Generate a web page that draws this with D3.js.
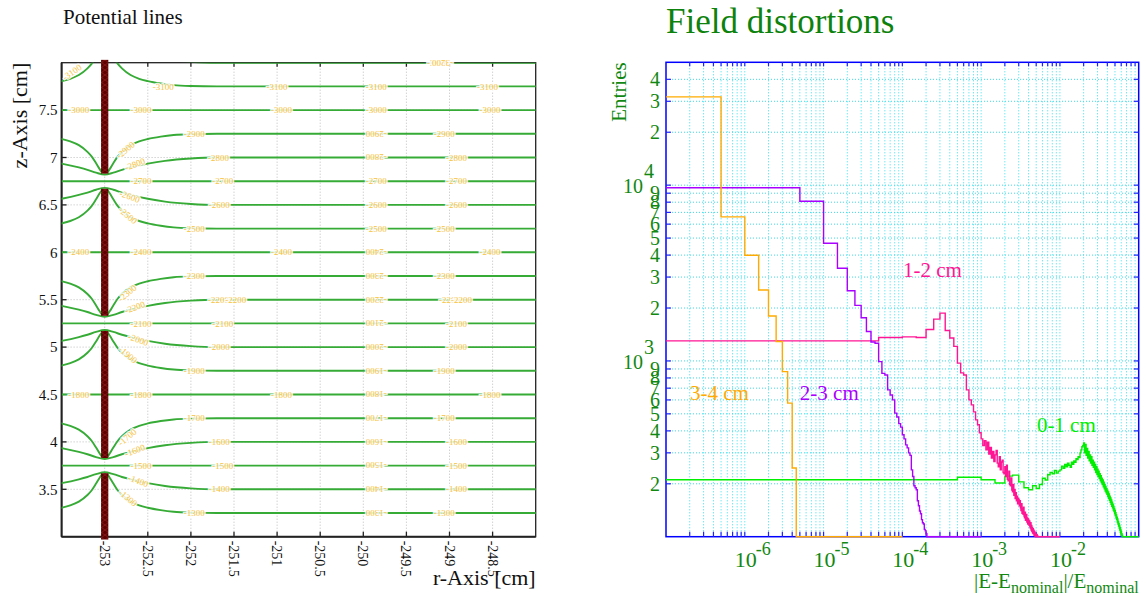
<!DOCTYPE html>
<html><head><meta charset="utf-8">
<script src="https://cdn.jsdelivr.net/npm/d3@7"></script>
<style>
body{margin:0;background:#fff}
svg{display:block}
text{font-family:"Liberation Serif","DejaVu Serif",serif}
</style>
</head><body>
<svg id="c" width="1146" height="596"></svg>
<script>
// ===================== LEFT PANEL DATA =====================
const rTicks = [-253, -252.5, -252, -251.5, -251, -250.5, -250, -249.5, -249, -248.5];
const rTickLabels = ["-253", "-252.5", "-252", "-251.5", "-251", "-250.5", "-250", "-249.5", "-249", "-248.5"];
const zTicks = [3.5, 4, 4.5, 5, 5.5, 6, 6.5, 7, 7.5];
const zTickLabels = ["3.5", "4", "4.5", "5", "5.5", "6", "6.5", "7", "7.5"];
const wireR = -253;
const wireGaps = [2.25, 3.75, 5.25, 6.75, 8.25];
const stripSegments = [[2.97, 3.67], [3.83, 5.17], [5.33, 6.67], [6.83, 8.03]];
const levelZ = [3.25, 3.5, 3.75, 4.0, 4.25, 4.5, 4.75, 5.0, 5.25, 5.5, 5.75, 6.0, 6.25, 6.5, 6.75, 7.0, 7.25, 7.5, 7.75, 8.0];
const levelV = [-1300, -1400, -1500, -1600, -1700, -1800, -1900, -2000, -2100, -2200, -2300, -2400, -2500, -2600, -2700, -2800, -2900, -3000, -3100, -3200];
// contour shape: offset from wire (dr) vs offset from gap (dz)
const farDr  = [0.03, 0.06, 0.10, 0.15, 0.20, 0.30, 0.40, 0.50, 0.65, 0.80, 1.00, 1.30, 6.0];
const farDz  = [0.09, 0.13, 0.19, 0.26, 0.31, 0.38, 0.42, 0.445, 0.47, 0.487, 0.496, 0.50, 0.50];
const nearDr = [0.0, 0.10, 0.20, 0.30, 0.50, 0.70, 1.00, 1.30, 6.0];
const nearDz = [0.07, 0.09, 0.12, 0.145, 0.185, 0.215, 0.24, 0.25, 0.25];
// contour labels: [value, r, z, angle]
const contourLabels = [
  [-3200, -249.14, 8.0, 0], [-3200, -249.08, 8.0, 180],
  [-3100, -253.38, 7.90, -35], [-3100, -252.32, 7.75, 0], [-3100, -251.0, 7.75, 0], [-3100, -249.85, 7.75, 0], [-3100, -248.56, 7.75, 0],
  [-3000, -253.3, 7.5, 0], [-3000, -252.58, 7.5, 0], [-3000, -250.95, 7.5, 0], [-3000, -249.85, 7.5, 0], [-3000, -248.53, 7.5, 0],
  [-2900, -252.76, 7.08, -40], [-2900, -251.96, 7.25, 0], [-2900, -249.85, 7.25, 180], [-2900, -249.06, 7.25, 0],
  [-2800, -252.65, 6.93, -20], [-2800, -251.68, 7.0, 0], [-2800, -249.85, 7.0, 180], [-2800, -248.92, 7.0, 0],
  [-2700, -252.58, 6.75, 0], [-2700, -251.63, 6.75, 0], [-2700, -249.85, 6.75, 0], [-2700, -248.92, 6.75, 0],
  [-2600, -252.71, 6.59, 20], [-2600, -251.67, 6.5, 0], [-2600, -249.85, 6.5, 0], [-2600, -248.92, 6.5, 0],
  [-2500, -252.73, 6.39, 40], [-2500, -251.96, 6.25, 0], [-2500, -249.85, 6.25, 0], [-2500, -249.06, 6.25, 0],
  [-2400, -253.3, 6.0, 0], [-2400, -252.58, 6.0, 0], [-2400, -250.95, 6.0, 0], [-2400, -249.85, 6.0, 180], [-2400, -248.53, 6.0, 0],
  [-2300, -252.74, 5.57, -40], [-2300, -251.96, 5.75, 0], [-2300, -249.85, 5.75, 180], [-2300, -249.06, 5.75, 0],
  [-2200, -252.65, 5.42, -20], [-2200, -251.68, 5.5, 0], [-2200, -251.48, 5.5, 0], [-2200, -249.85, 5.5, 180], [-2200, -249.0, 5.5, 0], [-2200, -248.86, 5.5, 0],
  [-2100, -252.58, 5.25, 0], [-2100, -251.63, 5.25, 0], [-2100, -249.85, 5.25, 180], [-2100, -248.92, 5.25, 0],
  [-2000, -252.61, 5.08, 20], [-2000, -251.67, 5.0, 0], [-2000, -249.85, 5.0, 180], [-2000, -248.92, 5.0, 0],
  [-1900, -252.73, 4.92, 40], [-1900, -251.96, 4.75, 0], [-1900, -249.85, 4.75, 180], [-1900, -249.06, 4.75, 0],
  [-1800, -253.3, 4.5, 0], [-1800, -252.58, 4.5, 0], [-1800, -250.95, 4.5, 0], [-1800, -249.85, 4.5, 180], [-1800, -248.53, 4.5, 0],
  [-1700, -252.74, 4.05, -40], [-1700, -251.96, 4.25, 0], [-1700, -249.85, 4.25, 180], [-1700, -249.06, 4.25, 0],
  [-1600, -252.65, 3.91, -20], [-1600, -251.67, 4.0, 0], [-1600, -249.85, 4.0, 180], [-1600, -248.92, 4.0, 0],
  [-1500, -252.58, 3.75, 0], [-1500, -251.63, 3.75, 0], [-1500, -249.85, 3.75, 180], [-1500, -248.92, 3.75, 0],
  [-1400, -252.61, 3.59, 20], [-1400, -251.67, 3.5, 0], [-1400, -249.85, 3.5, 180], [-1400, -248.92, 3.5, 0],
  [-1300, -252.73, 3.41, 40], [-1300, -251.96, 3.25, 0], [-1300, -249.85, 3.25, 180], [-1300, -249.06, 3.25, 0]
];

// ===================== RIGHT PANEL DATA =====================
const xDecades = [-7, -6, -5, -4, -3, -2, -1];
const xLabelExp = ["-6", "-5", "-4", "-3", "-2"];
const yDecades = [2, 3, 4];
const seriesNames = ["3-4 cm", "2-3 cm", "1-2 cm", "0-1 cm"];
const seriesColors = ["#ffaa00", "#aa00ff", "#ff1493", "#00ee00"];
const binWidths = [5e-7, 5e-6, 5e-5, 5e-4];
const rangeEnds = [1e-4, 1e-3, 1e-2, 1e-1];
const vals34 = [31800, 6600, 3990, 2530, 1800, 1290, 869, 575, 246];
const vals23 = [9660, 8100, 4670, 3370, 2510, 2070, 1760, 1470, 1282, 1260,
  991, 850, 832, 684, 640, 600, 505, 480, 440, 420,
  380, 360, 333, 320, 300, 290, 240, 220, 195, 190,
  185, 160, 150, 140, 135, 125, 120, 118, 110, 108,
  104, 100, 96, 92];
const vals12 = [1300, 1360, 1370, 1360, 1510, 1730, 1870, 1490, 1350, 1210,
  972, 855, 832, 684, 600, 562, 513, 462, 433, 390,
  360, 330, 352, 312, 345, 295, 322, 280, 305, 268,
  292, 310, 262, 250, 285, 240, 266, 272, 232, 228,
  250, 220, 255, 212, 208, 236, 198, 195, 216, 184,
  180, 198, 172, 186, 165, 178, 160, 170, 154, 165,
  162, 150, 160, 146, 141, 154, 136, 145, 134, 147,
  131, 128, 138, 124, 129, 134, 121, 128, 118, 126,
  124, 116, 123, 114, 112, 120, 109, 116, 107, 113,
  105, 111, 104, 109, 102, 107, 101, 105, 100, 103,
  102, 99, 103, 98, 101, 97, 96, 94];
const vals01 = [211, 218, 211, 202, 221, 224, 205, 190, 185, 195,
  188, 198, 215, 210, 225, 232, 228, 238, 230, 236,
  240, 252, 245, 258, 250, 262, 255, 248, 265, 258,
  270, 265, 278, 275, 285, 282, 300, 312, 325, 330,
  341, 300, 335, 290, 318, 280, 305, 270, 292, 262,
  285, 255, 272, 248, 265, 240, 258, 232, 250, 226,
  242, 220, 236, 214, 228, 208, 222, 203, 215, 198,
  210, 192, 204, 187, 198, 182, 193, 178, 188, 174,
  184, 170, 180, 165, 175, 161, 170, 157, 166, 153,
  162, 149, 157, 146, 153, 142, 149, 139, 145, 135,
  141, 132, 137, 128, 133, 125, 129, 121, 126, 118,
  122, 115, 119, 112, 116, 109, 113, 106, 110, 104,
  107, 102, 104, 100, 102, 98, 100, 96, 97, 95];
const seriesVals = [vals34, vals23, vals12, vals01];
// series label anchor positions (data coords)
const labelX = [2.02e-7, 5.0e-6, 1.02e-4, 5.1e-3];
const labelY = [598, 598, 2990, 394];

// ===================== DRAWING =====================
const svg = d3.select("#c");
const defs = svg.append("defs");

// ---------- LEFT ----------
const xL = d3.scaleLinear().domain([-253.5, -248]).range([61.6, 535.7]);
const yL = d3.scaleLinear().domain([3, 8]).range([536.7, 62.7]);
const L = svg.append("g");

defs.append("clipPath").attr("id", "clipL").append("rect")
  .attr("x", xL(-253.5)).attr("y", yL(8)).attr("width", xL(-248) - xL(-253.5)).attr("height", yL(3) - yL(8));

// grid
L.append("g").selectAll("line").data(rTicks).join("line")
  .attr("x1", d => xL(d)).attr("x2", d => xL(d)).attr("y1", yL(8)).attr("y2", yL(3))
  .attr("stroke", "#bdbdbd").attr("stroke-dasharray", "1,2");
L.append("g").selectAll("line").data(zTicks).join("line")
  .attr("y1", d => yL(d)).attr("y2", d => yL(d)).attr("x1", xL(-253.5)).attr("x2", xL(-248))
  .attr("stroke", "#bdbdbd").attr("stroke-dasharray", "1,2");

// frame
L.append("rect").attr("x", xL(-253.5)).attr("y", yL(8)).attr("width", xL(-248) - xL(-253.5)).attr("height", yL(3) - yL(8))
  .attr("fill", "none").attr("stroke", "#222").attr("stroke-width", 1.3);
L.append("line").attr("x1", xL(-253.5)).attr("x2", xL(-253.5)).attr("y1", yL(8)).attr("y2", yL(3)).attr("stroke", "#222").attr("stroke-width", 2);
L.append("line").attr("x1", xL(-253.5)).attr("x2", xL(-248)).attr("y1", yL(3)).attr("y2", yL(3)).attr("stroke", "#222").attr("stroke-width", 2);
// ticks
L.append("g").selectAll("line").data(rTicks).join("line")
  .attr("x1", d => xL(d)).attr("x2", d => xL(d)).attr("y1", yL(3)).attr("y2", yL(3) - 5).attr("stroke", "#222").attr("stroke-width", 1.3);
L.append("g").selectAll("line").data(rTicks).join("line")
  .attr("x1", d => xL(d)).attr("x2", d => xL(d)).attr("y1", yL(8)).attr("y2", yL(8) + 4).attr("stroke", "#222").attr("stroke-width", 1.3);
L.append("g").selectAll("line").data(zTicks).join("line")
  .attr("y1", d => yL(d)).attr("y2", d => yL(d)).attr("x1", xL(-253.5)).attr("x2", xL(-253.5) + 5).attr("stroke", "#222").attr("stroke-width", 1.3);

// contours
const lineL = d3.line().x(d => xL(d[0])).y(d => yL(d[1])).curve(d3.curveMonotoneX);
const contourPaths = [];
levelZ.forEach(z => {
  let g = wireGaps[0];
  wireGaps.forEach(w => { if (Math.abs(z - w) < Math.abs(z - g)) g = w; });
  const d = +(z - g).toFixed(3);
  const s = d >= 0 ? 1 : -1;
  const ad = Math.abs(d);
  if (ad < 0.01 || ad > 0.7) {
    contourPaths.push([[-253.5, z], [-248, z]]);
  } else if (ad < 0.3) {
    const pts = [];
    for (let i = nearDr.length - 1; i > 0; i--) pts.push([wireR - nearDr[i], g + s * nearDz[i]]);
    nearDr.forEach((dr, i) => pts.push([wireR + dr, g + s * nearDz[i]]));
    contourPaths.push(pts);
  } else {
    const left = [], right = [];
    for (let i = farDr.length - 1; i >= 0; i--) left.push([wireR - farDr[i], g + s * farDz[i]]);
    farDr.forEach((dr, i) => right.push([wireR + dr, g + s * farDz[i]]));
    contourPaths.push(left, right);
  }
});
L.append("g").attr("clip-path", "url(#clipL)").selectAll("path").data(contourPaths).join("path")
  .attr("d", lineL).attr("fill", "none").attr("stroke", "#36ab36").attr("stroke-width", 1.9);

// wire strips
const pat = defs.append("pattern").attr("id", "wirePat").attr("patternUnits", "userSpaceOnUse")
  .attr("width", 7).attr("height", 5);
pat.append("rect").attr("width", 7).attr("height", 5).attr("fill", "#5e0000");
pat.append("path").attr("d", "M0,0L7,5M7,0L0,5").attr("stroke", "#8a1c1c").attr("stroke-width", 0.8);
L.append("g").selectAll("rect").data(stripSegments).join("rect")
  .attr("x", xL(wireR - 0.042)).attr("width", xL(wireR + 0.042) - xL(wireR - 0.042))
  .attr("y", d => yL(d[1])).attr("height", d => yL(d[0]) - yL(d[1]))
  .attr("fill", "url(#wirePat)");

// contour labels
L.append("g").selectAll("text").data(contourLabels).join("text")
  .attr("transform", d => `translate(${xL(d[1])},${yL(d[2])}) rotate(${d[3]})`)
  .attr("text-anchor", "middle").attr("dy", "0.35em")
  .attr("font-size", 9).attr("fill", "#f7c23a")
  .attr("stroke", "#ffffff").attr("stroke-width", 2.5).attr("stroke-opacity", 0.85).attr("paint-order", "stroke")
  .text(d => String(d[0]));

// tick labels
L.append("g").selectAll("text").data(rTicks).join("text")
  .attr("transform", d => `translate(${xL(d)},${yL(3) + 4}) rotate(90)`)
  .attr("dy", "0.35em").attr("font-size", 14).attr("fill", "#111")
  .text((d, i) => rTickLabels[i]);
L.append("g").selectAll("text").data(zTicks).join("text")
  .attr("x", xL(-253.5) - 4).attr("y", d => yL(d)).attr("dy", "0.35em")
  .attr("text-anchor", "end").attr("font-size", 15).attr("fill", "#111")
  .text((d, i) => zTickLabels[i]);

// titles
L.append("text").attr("x", 63).attr("y", 24).attr("font-size", 21).attr("fill", "#111").text("Potential lines");
L.append("text").attr("transform", `translate(27,${yL(8)}) rotate(-90)`).attr("text-anchor", "end")
  .attr("font-size", 22).attr("fill", "#111").text("z-Axis [cm]");
L.append("text").attr("x", xL(-248)).attr("y", 585).attr("text-anchor", "end")
  .attr("font-size", 22).attr("fill", "#111").text("r-Axis [cm]");

// ---------- RIGHT ----------
const xR = d3.scaleLog().domain([1e-7, 1e-1]).range([666, 1138.7]).clamp(true);
const yR = d3.scaleLog().domain([100, 5e4]).range([536.7, 62.3]).clamp(true);
const R = svg.append("g");
const [x0, x1] = xR.range();
const [y0, y1] = yR.range();

const xMinor = [];
xDecades.forEach(e => { for (let m = 1; m <= 9; m++) { const v = m * Math.pow(10, e); if (v > 1.0001e-7 && v < 0.9999e-1) xMinor.push(v); } });
const yMinor = [];
yDecades.forEach(e => { for (let m = 1; m <= 9; m++) { const v = m * Math.pow(10, e); if (v > 100.01 && v < 49990) yMinor.push(v); } });

// grid
R.append("g").selectAll("line").data(xMinor).join("line")
  .attr("x1", d => xR(d)).attr("x2", d => xR(d)).attr("y1", y1).attr("y2", y0)
  .attr("stroke", "#30dff0").attr("stroke-dasharray", "1,2");
R.append("g").selectAll("line").data(yMinor).join("line")
  .attr("y1", d => yR(d)).attr("y2", d => yR(d)).attr("x1", x0).attr("x2", x1)
  .attr("stroke", "#30dff0").attr("stroke-dasharray", "1,2");

// frame
R.append("rect").attr("x", x0).attr("y", y1).attr("width", x1 - x0).attr("height", y0 - y1)
  .attr("fill", "none").attr("stroke", "#0000ff").attr("stroke-width", 1.5);
// ticks
const tk = R.append("g").attr("stroke", "#2222ff").attr("stroke-width", 1.2);
tk.selectAll(".tb").data(xMinor).join("line").attr("class", "tb")
  .attr("x1", d => xR(d)).attr("x2", d => xR(d)).attr("y1", y0).attr("y2", y0 - 5);
tk.selectAll(".tt").data(xMinor).join("line").attr("class", "tt")
  .attr("x1", d => xR(d)).attr("x2", d => xR(d)).attr("y1", y1).attr("y2", y1 + 4);
tk.selectAll(".tl").data(yMinor).join("line").attr("class", "tl")
  .attr("y1", d => yR(d)).attr("y2", d => yR(d)).attr("x1", x0).attr("x2", x0 + 5);
tk.selectAll(".tr").data(yMinor).join("line").attr("class", "tr")
  .attr("y1", d => yR(d)).attr("y2", d => yR(d)).attr("x1", x1).attr("x2", x1 - 5);

// histograms
function histPath(vals, w, end) {
  const n = Math.round(end / w);
  const hx = e => e <= 0 ? x0 : xR(e);
  const hy = v => v <= 0 ? y0 : yR(v);
  let p = `M${hx(0)},${hy(vals[0] || 0)}`;
  for (let i = 0; i < n; i++) {
    const v = vals[i] || 0;
    if (i > 0) p += `V${hy(v)}`;
    p += `H${hx((i + 1) * w)}`;
  }
  return p;
}
const histG = R.append("g");
[3, 2, 1, 0].forEach(k => {
  histG.append("path").attr("d", histPath(seriesVals[k], binWidths[k], rangeEnds[k]))
    .attr("fill", "none").attr("stroke", seriesColors[k]).attr("stroke-width", 1.4);
});

// series labels
R.append("g").selectAll("text").data(seriesNames).join("text")
  .attr("x", (d, i) => xR(labelX[i])).attr("y", (d, i) => yR(labelY[i]))
  .attr("font-size", 21).attr("fill", (d, i) => seriesColors[i]).text(d => d);

// y tick labels
const yLab = R.append("g").attr("fill", "#118811").attr("font-size", 20);
yMinor.forEach(v => {
  const m = Math.round(v / Math.pow(10, Math.floor(Math.log10(v) + 1e-9)));
  const yy = yR(v);
  if (m === 1) {
    const e = Math.round(Math.log10(v));
    yLab.append("text").attr("x", 643).attr("y", yy + 8).attr("text-anchor", "end").text("10");
    yLab.append("text").attr("x", 644).attr("y", yy - 7).text(String(e));
  } else {
    yLab.append("text").attr("x", 660).attr("y", yy).attr("dy", "0.35em").attr("text-anchor", "end").text(String(m));
  }
});
// x tick labels
const xLab = R.append("g").attr("fill", "#118811");
xLabelExp.forEach(e => {
  const xx = xR(Math.pow(10, +e));
  xLab.append("text").attr("x", xx - 10).attr("y", 567).attr("font-size", 22).text("10");
  xLab.append("text").attr("x", xx + 11).attr("y", 555).attr("font-size", 18).text(e);
});
// axis titles
const xt = R.append("text").attr("x", x1).attr("y", 588).attr("text-anchor", "end").attr("fill", "#118811").attr("font-size", 21);
xt.append("tspan").text("|E-E");
xt.append("tspan").attr("font-size", 16).attr("dy", 5).text("nominal");
xt.append("tspan").attr("dy", -5).text("|/E");
xt.append("tspan").attr("font-size", 16).attr("dy", 5).text("nominal");
R.append("text").attr("transform", `translate(626,${y1}) rotate(-90)`).attr("text-anchor", "end")
  .attr("fill", "#118811").attr("font-size", 21).text("Entries");
R.append("text").attr("x", 666).attr("y", 33).attr("fill", "#0d820d").attr("font-size", 35).text("Field distortions");
</script>
</body></html>
